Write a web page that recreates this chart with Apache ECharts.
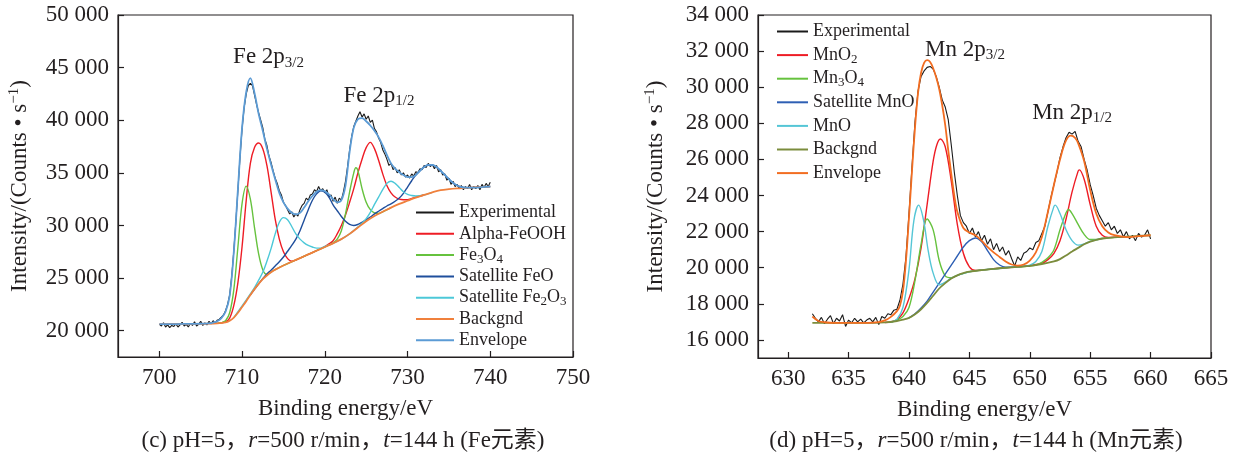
<!DOCTYPE html>
<html>
<head>
<meta charset="utf-8">
<script src="https://cdn.jsdelivr.net/npm/echarts@6/dist/echarts.min.js"></script>
<style>
html, body { margin: 0; padding: 0; background: #fff; }
#chart { width: 1238px; height: 461px; }
</style>
</head>
<body>
<div id="chart"></div>
<script>
// ---------- Fe 2p spectrum ----------
// measured counts, from 700 eV in 0.25 eV steps (one row per eV)
const feStart = 700, feStep = 0.25;
const feExperimental = [
  20600, 20450, 20750, 20350,
  20550, 20300, 20500, 20400,
  20650, 20350, 20550, 20800,
  20450, 20600, 20350, 20700,
  20500, 20850, 20450, 20600,
  20900, 20500, 20750, 20550,
  20900, 20650, 20950, 20700,
  21000, 21100, 21300, 21500,
  21900, 22500, 23400, 25200,
  27600, 30400, 33400, 36500,
  39200, 41200, 42500, 43300,
  43500, 43300, 42400, 41500,
  40700, 40000, 39300, 38200,
  37600, 36600, 36000, 35200,
  34500, 34000, 33300, 32900,
  32200, 31900, 31500, 31100,
  31300, 30800, 31100, 30900,
  31500, 31900, 32100, 32600,
  32400, 32900, 33000, 33400,
  33200, 33700, 33300, 33500,
  33100, 33400, 32700, 32900,
  32300, 32700, 32100, 32600,
  32400, 33200, 34200, 35600,
  37200, 38500, 39400, 39900,
  40400, 40800, 40300, 40600,
  40100, 40400, 39800, 40000,
  39200, 38900, 38300, 37900,
  37200, 36800, 36300, 35700,
  35900, 35300, 35500, 35000,
  35300, 34800, 35000, 34600,
  34800, 34500, 34900, 34700,
  35100, 35000, 35400, 35300,
  35700, 35500, 35900, 35600,
  35800, 35400, 35700, 35100,
  35300, 34800, 34900, 34300,
  34500, 33900, 34200, 33700,
  33900, 33500, 33800, 33400,
  33700, 33500, 33900, 33400,
  33700, 33500, 33800, 33400,
  33900, 33600, 34000, 33700,
  34100
];
// fitted components, [binding energy, counts]
const feAlphaFeOOH = [[707,20700],[708,20850],[708.5,21200],[709,22400],[709.5,24600],[710,28000],[710.5,32400],[711,35900],[711.5,37400],[712,37840],[712.5,37300],[713,35700],[713.5,33200],[714,30600],[714.5,28700],[715,27500],[715.5,26850],[716,26600],[716.5,26700],[717,26900],[718,27250],[719,27600],[720,28000],[720.5,28250],[721,28550],[721.5,29200],[722,30000],[722.5,31000],[723,32200],[723.5,33500],[724,35000],[724.5,36300],[725,37400],[725.5,37900],[726,37300],[726.5,36200],[727,34900],[727.5,33800],[728,33100],[728.5,32700],[729,32500],[729.5,32450],[730,32450],[731,32700],[732,32900]];
const feFe3O4 = [[707,20720],[707.5,20760],[708,20950],[708.5,21700],[709,23900],[709.5,28000],[710,32100],[710.5,33740],[711,32500],[711.5,29800],[712,27300],[712.5,25800],[713,25350],[713.5,25580],[714,25800],[715,26200],[716,26550],[717,26900],[718,27250],[719,27600],[720,27950],[721,28350],[721.5,28700],[722,29500],[722.5,31100],[723,33200],[723.5,35000],[723.75,35480],[724,35200],[724.5,33500],[725,32200],[725.5,31500],[726,31200],[726.5,31150],[727,31300],[728,31700]];
const feSatelliteFeO = [[711,23400],[712,24450],[712.5,24950],[713,25400],[713.5,25750],[714,26150],[714.5,26550],[715,27000],[715.5,27550],[716,28100],[716.5,28700],[717,29500],[717.5,30500],[718,31500],[718.5,32400],[719,33000],[719.5,33300],[720,33150],[720.5,32700],[721,31950],[721.5,31400],[722,30850],[722.5,30400],[723,30100],[723.5,30000],[724,30100],[724.5,30300],[725,30550],[725.5,30800],[726,31100],[726.5,31350],[727,31600],[727.5,31850],[728,32050],[728.5,32300],[729,32600],[729.5,33050],[730,33650],[730.5,34250],[731,34800],[731.5,35200],[732,35550],[732.5,35750],[733,35750],[733.5,35550],[734,35200],[734.5,34800],[735,34400],[735.5,34050],[736,33800],[736.5,33650],[737,33600],[738,33620],[739,33660],[740,33700]];
const feSatelliteFe2O3 = [[709,21250],[710,22350],[711,23500],[711.5,24100],[712,24800],[712.5,25550],[713,26600],[713.5,27800],[714,29200],[714.5,30300],[715,30740],[715.5,30550],[716,29900],[716.5,29200],[717,28700],[717.5,28350],[718,28100],[718.5,27950],[719,27850],[719.5,27850],[720,28000],[721,28300],[722,28700],[723,29200],[724,29850],[724.5,30200],[725,30650],[725.5,31250],[726,32000],[726.5,32700],[727,33400],[727.5,34000],[728,34200],[728.5,34000],[729,33600],[729.5,33200],[730,32950],[730.5,32850],[731,32800],[732,32900],[733,33150]];
const feBackground = [[700,20620],[704,20650],[707,20700],[708,20780],[708.5,20950],[709,21250],[709.5,21700],[710,22250],[710.5,22800],[711,23400],[711.5,23950],[712,24450],[712.5,24900],[713,25250],[713.5,25550],[714,25800],[715,26200],[716,26550],[717,26900],[718,27250],[719,27600],[720,27950],[721,28300],[722,28700],[723,29200],[724,29800],[725,30400],[726,30900],[727,31300],[728,31700],[729,32050],[730,32350],[731,32650],[732,32900],[733,33150],[734,33350],[735,33450],[736,33520],[737,33570],[738,33620],[739,33660],[740,33700]];
const feEnvelope = [[700,20620],[702,20630],[704,20650],[705,20660],[706,20700],[706.5,20770],[707,20900],[707.5,21200],[708,21800],[708.5,23300],[709,27500],[709.5,33500],[710,39300],[710.5,42700],[711,44000],[711.5,42600],[712,40600],[712.5,39000],[713,37300],[713.5,35800],[714,34400],[714.5,33100],[715,32200],[715.5,31600],[716,31200],[716.5,31050],[717,31200],[717.5,31700],[718,32300],[718.5,32800],[719,33200],[719.5,33350],[720,33250],[720.5,32950],[721,32500],[721.5,32200],[722,32400],[722.5,33800],[723,37000],[723.5,39300],[724,40100],[724.5,40200],[725,39900],[725.5,39500],[726,39000],[726.5,38400],[727,37600],[727.5,36700],[728,35900],[728.5,35400],[729,35050],[729.5,34800],[730,34600],[730.5,34600],[731,34800],[731.5,35200],[732,35550],[732.5,35750],[733,35750],[733.5,35550],[734,35200],[734.5,34800],[735,34400],[735.5,34050],[736,33800],[736.5,33650],[737,33600],[738,33600],[739,33650],[740,33700]];

const feTicksX = [700, 710, 720, 730, 740, 750];
const feTicksY = [20000, 25000, 30000, 35000, 40000, 45000, 50000];

// ---------- Mn 2p spectrum ----------
// measured counts, from 632 eV in 0.25 eV steps (one row per eV)
const mnStart = 632, mnStep = 0.25;
const mnExperimental = [
  17450, 17200, 17000, 17250,
  16900, 17150, 17350, 16900,
  17200, 17050, 17400, 16750,
  17100, 16950, 17200, 17000,
  17150, 16950, 17100, 17200,
  17000, 17250, 16850, 17300,
  17200, 17450, 17400, 17650,
  17700, 18200, 19100, 20600,
  23000, 25600, 28100, 29800,
  30600, 30900, 31100, 31150,
  31000, 30600, 30000, 29300,
  28900, 28200, 26800, 25300,
  24000, 22900, 22500, 22300,
  21900, 22200, 21700, 22000,
  21500, 21800, 21300, 21600,
  21000, 21350, 20900, 21150,
  20700, 20950, 20500, 20100,
  20600, 20400, 20800, 20900,
  21100, 21000, 21400, 21500,
  21900, 22300, 23100, 23900,
  24600, 25300, 26100, 26700,
  27200, 27500, 27400, 27550,
  27000, 26700, 26000, 25400,
  24600, 24000, 23300, 22900,
  22600, 22300, 22500, 22100,
  22300, 21900, 22100, 21700,
  22000, 21600, 21800, 21500,
  21900, 21700, 21800, 22100,
  21600
];
const mnMnO2 = [[638,16970],[638.5,17000],[639,17120],[639.5,17500],[640,18300],[640.5,19400],[641,21100],[641.5,23500],[642,25900],[642.3,26800],[642.6,27130],[643,26700],[643.5,24800],[644,22400],[644.5,20800],[645,20050],[645.5,19850],[646,19870],[647,19940],[648,20000],[649,20050],[650,20120],[651,20250],[651.5,20450],[652,20800],[652.5,21500],[653,22700],[653.5,24200],[654,25350],[654.1,25420],[654.5,24900],[655,23500],[655.5,22300],[656,21800],[656.5,21680],[657,21690],[658,21720]];
const mnMn3O4 = [[638.5,16980],[639,17100],[639.5,17300],[640,17800],[640.5,19300],[641,21300],[641.5,22700],[642,22100],[642.5,20400],[643,19550],[643.5,19450],[644,19580],[645,19780],[646,19870],[648,20000],[650,20100],[650.5,20150],[651,20300],[651.5,20550],[652,21000],[652.5,22100],[653,23050],[653.2,23230],[653.5,23000],[654,22400],[654.5,21850],[655,21560],[655.5,21560],[656,21620],[657,21680]];
const mnSatelliteMnO = [[640,17220],[640.5,17450],[641,17770],[641.5,18150],[642,18650],[642.5,19150],[643,19650],[643.5,20150],[644,20650],[644.5,21150],[645,21500],[645.5,21650],[646,21450],[646.5,20950],[647,20450],[647.5,20150],[648,20030],[649,20060],[650,20100]];
const mnMnO = [[638.5,16980],[639,17150],[639.5,17800],[640,19900],[640.4,22600],[640.8,23470],[641.2,22650],[641.6,20900],[642,19700],[642.5,19050],[643,19200],[643.5,19420],[644,19580],[645,19780],[646,19870],[648,20000],[649.5,20080],[650,20150],[650.5,20350],[651,20900],[651.5,22300],[652,23400],[652.1,23470],[652.5,23000],[653,22100],[653.5,21500],[654,21250],[654.5,21320],[655,21460],[656,21620]];
const mnBackground = [[632,16950],[637,16950],[638,16970],[639,17050],[639.5,17120],[640,17220],[640.5,17420],[641,17700],[641.5,18050],[642,18450],[642.5,18850],[643,19150],[643.5,19400],[644,19580],[644.5,19700],[645,19780],[646,19870],[647,19940],[648,20000],[649,20050],[650,20100],[651,20200],[652,20350],[652.5,20480],[653,20680],[653.5,20900],[654,21100],[654.5,21300],[655,21450],[655.5,21550],[656,21620],[657,21680],[658,21720],[659,21760],[660,21800]];
const mnEnvelope = [[632,17300],[632.5,17050],[633,16980],[634,16950],[636,16950],[637,16960],[637.5,16990],[638,17080],[638.5,17280],[639,17600],[639.25,17900],[639.5,18700],[639.75,20400],[640,22800],[640.25,25400],[640.5,27800],[640.75,29700],[641,30800],[641.25,31350],[641.5,31500],[641.75,31400],[642,31050],[642.25,30550],[642.5,29900],[642.75,29000],[643,27900],[643.25,26500],[643.5,25200],[643.75,24000],[644,23100],[644.5,22200],[645,21950],[645.5,21800],[646,21500],[646.5,21150],[647,20850],[647.5,20600],[648,20350],[648.5,20180],[649,20120],[649.5,20180],[650,20400],[650.5,20850],[651,21700],[651.5,23100],[652,24600],[652.5,26000],[653,27050],[653.4,27320],[653.75,27200],[654,26900],[654.5,25900],[655,24300],[655.5,23000],[656,22300],[656.5,21950],[657,21800],[658,21700],[659,21750],[660,21800]];

const mnTicksX = [630, 635, 640, 645, 650, 655, 660, 665];
const mnTicksY = [16000, 18000, 20000, 22000, 24000, 26000, 28000, 30000, 32000, 34000];

// ---------- drawing ----------
const FONT = '"Times New Roman", "Liberation Serif", "DejaVu Serif", "Noto Sans CJK SC", serif';
const INK = '#231f20';

const legendLabels = {
  'fe-exp': 'Experimental',
  'fe-alpha': 'Alpha-FeOOH',
  'fe-fe3o4': 'Fe{sub|3}O{sub|4}',
  'fe-satfeo': 'Satellite FeO',
  'fe-satfe2o3': 'Satellite Fe{sub|2}O{sub|3}',
  'fe-bg': 'Backgnd',
  'fe-env': 'Envelope',
  'mn-exp': 'Experimental',
  'mn-mno2': 'MnO{sub|2}',
  'mn-mn3o4': 'Mn{sub|3}O{sub|4}',
  'mn-satmno': 'Satellite MnO',
  'mn-mno': 'MnO',
  'mn-bg': 'Backgnd',
  'mn-env': 'Envelope'
};

const onGrid = (start, step, values) => values.map((v, i) => [start + i * step, v]);
const spaced = v => String(v).replace(/\B(?=(\d{3})+(?!\d))/g, ' ');

const legendRich = {
  sub: { fontSize: 13, lineHeight: 8, verticalAlign: 'bottom', fontFamily: FONT, color: INK }
};
const annotationLabel = {
  show: true, position: 'inside', fontSize: 23, fontFamily: FONT, color: INK, lineHeight: 26,
  rich: { sub: { fontSize: 15, lineHeight: 11, verticalAlign: 'bottom', fontFamily: FONT, color: INK } }
};

function curve(id, data, color, axis, z, opt) {
  return Object.assign({
    name: id, type: 'line', data: data, xAxisIndex: axis, yAxisIndex: axis,
    color: color, showSymbol: false, symbol: 'none', smooth: 0.35, z: z,
    lineStyle: { color: color, width: 1.4 }, emphasis: { disabled: true }
  }, opt || {});
}

function xAxisOf(idx, min, max, ticks) {
  return {
    type: 'value', gridIndex: idx, min: min, max: max,
    axisLine: { show: true, onZero: false, lineStyle: { color: INK, width: 1.2 } },
    axisTick: { show: true, inside: true, length: 6, customValues: ticks, lineStyle: { color: INK, width: 1.2 } },
    axisLabel: { customValues: ticks, margin: 9, fontSize: 23, fontFamily: FONT, color: INK },
    splitLine: { show: false },
    name: 'Binding energy/eV', nameLocation: 'middle', nameGap: 40,
    nameTextStyle: { fontSize: 23, fontFamily: FONT, color: INK }
  };
}

function yAxisOf(idx, min, max, ticks, gap) {
  return {
    type: 'value', gridIndex: idx, min: min, max: max,
    axisLine: { show: true, onZero: false, lineStyle: { color: INK, width: 1.2 } },
    axisTick: { show: true, inside: true, length: 6, customValues: ticks, lineStyle: { color: INK, width: 1.2 } },
    axisLabel: { customValues: ticks, margin: 9, fontSize: 23, fontFamily: FONT, color: INK, formatter: spaced },
    splitLine: { show: false },
    name: 'Intensity/(Counts • s{sup|\u22121})', nameLocation: 'middle', nameGap: gap,
    nameTextStyle: {
      fontSize: 23, fontFamily: FONT, color: INK, lineHeight: 26,
      rich: { sup: { fontSize: 15, lineHeight: 12, verticalAlign: 'top', fontFamily: FONT, color: INK } }
    }
  };
}

function legendOf(names, left, top, width, gap) {
  return {
    data: names, orient: 'vertical', left: left, top: top, icon: 'rect',
    itemWidth: width, itemHeight: 2, itemGap: gap, selectedMode: false,
    formatter: n => legendLabels[n],
    textStyle: { fontSize: 18, fontFamily: FONT, color: INK, lineHeight: 21, rich: legendRich }
  };
}

const chart = echarts.init(document.getElementById('chart'), null, { renderer: 'canvas' });

chart.setOption({
  animation: false,
  backgroundColor: '#fff',
  grid: [
    { left: 118, top: 15, width: 455, height: 342, show: true, borderColor: INK, borderWidth: 1.2, backgroundColor: 'transparent' },
    { left: 758, top: 15, width: 453, height: 343, show: true, borderColor: INK, borderWidth: 1.2, backgroundColor: 'transparent' }
  ],
  xAxis: [xAxisOf(0, 695, 750, feTicksX), xAxisOf(1, 627.5, 665, mnTicksX)],
  yAxis: [yAxisOf(0, 17500, 50000, feTicksY, 85), yAxisOf(1, 15000, 34000, mnTicksY, 89)],
  legend: [
    legendOf(['fe-exp', 'fe-alpha', 'fe-fe3o4', 'fe-satfeo', 'fe-satfe2o3', 'fe-bg', 'fe-env'], 411, 197, 38, 0.3),
    legendOf(['mn-exp', 'mn-mno2', 'mn-mn3o4', 'mn-satmno', 'mn-mno', 'mn-bg', 'mn-env'], 772, 16, 31, 2.6)
  ],
  series: [
    curve('fe-exp', onGrid(feStart, feStep, feExperimental), '#1a1a1a', 0, 2, {
      smooth: false, lineStyle: { color: '#1a1a1a', width: 1.1 },
      markPoint: {
        symbol: 'circle', symbolSize: 1, itemStyle: { color: 'rgba(0,0,0,0)' }, label: annotationLabel,
        data: [
          { coord: [713.2, 46000], label: { formatter: 'Fe 2p{sub|3/2}' } },
          { coord: [726.55, 42330], label: { formatter: 'Fe 2p{sub|1/2}' } }
        ]
      }
    }),
    curve('fe-alpha', feAlphaFeOOH, '#ee1c25', 0, 3),
    curve('fe-fe3o4', feFe3O4, '#66c23e', 0, 4),
    curve('fe-satfeo', feSatelliteFeO, '#1f4e9c', 0, 5),
    curve('fe-satfe2o3', feSatelliteFe2O3, '#4cc8d8', 0, 6),
    curve('fe-bg', feBackground, '#f0803c', 0, 7, { lineStyle: { color: '#f0803c', width: 1.8 } }),
    curve('fe-env', feEnvelope, '#5b9bd5', 0, 8, { lineStyle: { color: '#5b9bd5', width: 1.8 } }),

    curve('mn-exp', onGrid(mnStart, mnStep, mnExperimental), '#1a1a1a', 1, 2, {
      smooth: false, lineStyle: { color: '#1a1a1a', width: 1.1 },
      markPoint: {
        symbol: 'circle', symbolSize: 1, itemStyle: { color: 'rgba(0,0,0,0)' }, label: annotationLabel,
        data: [
          { coord: [644.64, 32060], label: { formatter: 'Mn 2p{sub|3/2}' } },
          { coord: [653.5, 28570], label: { formatter: 'Mn 2p{sub|1/2}' } }
        ]
      }
    }),
    curve('mn-mno2', mnMnO2, '#ee1c25', 1, 3),
    curve('mn-mn3o4', mnMn3O4, '#66c23e', 1, 4),
    curve('mn-satmno', mnSatelliteMnO, '#2e5fb4', 1, 5),
    curve('mn-mno', mnMnO, '#55c6d6', 1, 6),
    curve('mn-bg', mnBackground, '#7b8c3c', 1, 7, { lineStyle: { color: '#7b8c3c', width: 1.8 } }),
    curve('mn-env', mnEnvelope, '#f26d21', 1, 8, { lineStyle: { color: '#f26d21', width: 1.8 } })
  ],
  graphic: [
    {
      type: 'text', x: 343, y: 441,
      style: {
        text: '(c) pH=5，{i|r}=500 r/min，{i|t}=144 h (Fe元素)',
        fontSize: 23, fontFamily: FONT, fill: INK, align: 'center', verticalAlign: 'middle',
        rich: { i: { fontSize: 23, fontFamily: FONT, fontStyle: 'italic', fill: INK } }
      }
    },
    {
      type: 'text', x: 976, y: 441,
      style: {
        text: '(d) pH=5，{i|r}=500 r/min，{i|t}=144 h (Mn元素)',
        fontSize: 23, fontFamily: FONT, fill: INK, align: 'center', verticalAlign: 'middle',
        rich: { i: { fontSize: 23, fontFamily: FONT, fontStyle: 'italic', fill: INK } }
      }
    }
  ]
});
</script>
</body>
</html>
